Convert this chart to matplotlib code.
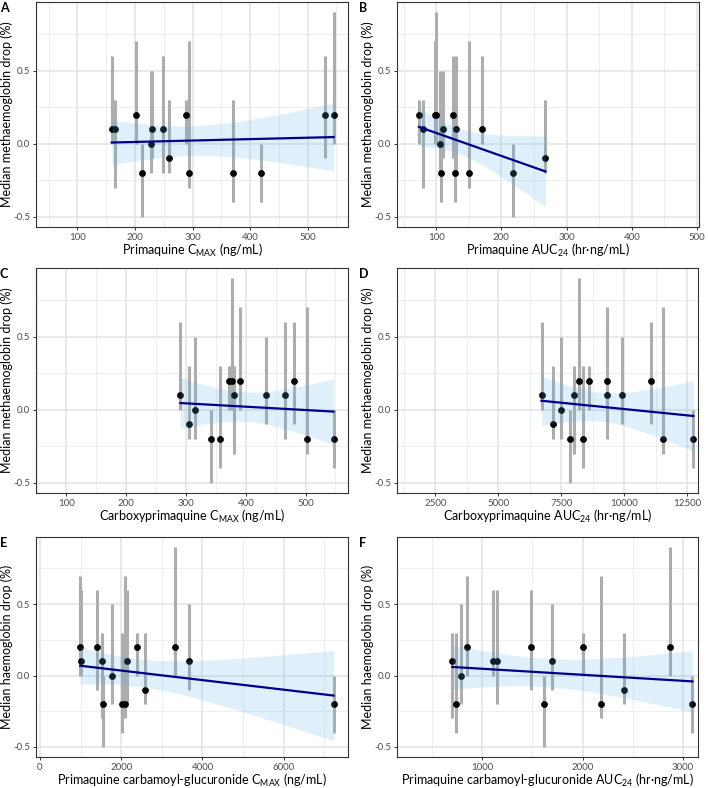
import numpy as np
import matplotlib
matplotlib.use("Agg")
import matplotlib.pyplot as plt

plt.rcParams['font.family'] = ['Lato', 'DejaVu Sans']
plt.rcParams['mathtext.fontset'] = 'custom'
plt.rcParams['mathtext.rm'] = 'Lato'
plt.rcParams['mathtext.it'] = 'Lato:italic'
plt.rcParams['mathtext.bf'] = 'Lato:bold'

# ---- subject-level outcome: median drop and its range (14 subjects) ----
median_drop = [0.1, -0.2, 0.0, 0.2, 0.1, 0.1, 0.2, -0.2, 0.1, 0.2, -0.2, -0.1, 0.2, -0.2]
drop_low = [-0.3, -0.4, -0.2, 0.0, 0.0, -0.2, -0.1, -0.5, -0.1, 0.0, -0.3, -0.2, 0.0, -0.4]
drop_high = [0.3, 0.3, 0.5, 0.7, 0.6, 0.6, 0.6, 0.0, 0.5, 0.3, 0.7, 0.3, 0.9, 0.0]

# ---- exposures per subject (same subject order) ----
pq_cmax = [165.3, 369.9, 227.1, 202.3, 159.6, 248.0, 530.1, 211.5, 228.8, 287.8, 293.6, 259.5, 545.1, 419.1]
pq_auc = [79.3, 107.6, 105.6, 99.0, 170.6, 131.0, 125.4, 217.2, 110.3, 73.6, 150.8, 267.5, 99.6, 129.5]
cpq_cmax = [381.0, 357.6, 315.0, 390.4, 290.5, 466.0, 480.5, 341.0, 433.0, 371.5, 502.2, 305.0, 377.6, 546.8]
cpq_auc = [8022, 8352, 7493, 9316, 6714, 9316, 11061, 7863, 9898, 8616, 11549, 7176, 8194, 12738]
pcg_cmax = [1530, 2024, 1778, 991, 1008, 2147, 1394, 1545, 3671, 2392, 2090, 2589, 3327, 7229]
pcg_auc = [702, 739, 789, 851, 1109, 1146, 1483, 1619, 1691, 2000, 2181, 2416, 2872, 3093]

panel_letters = ['A', 'B', 'C', 'D', 'E', 'F']
exposures = [pq_cmax, pq_auc, cpq_cmax, cpq_auc, pcg_cmax, pcg_auc]
x_titles = [
    r'Primaquine C$_{\mathrm{MAX}}$ (ng/mL)',
    r'Primaquine AUC$_{\mathrm{24}}$ (hr·ng/mL)',
    r'Carboxyprimaquine C$_{\mathrm{MAX}}$ (ng/mL)',
    r'Carboxyprimaquine AUC$_{\mathrm{24}}$ (hr·ng/mL)',
    r'Primaquine carbamoyl-glucuronide C$_{\mathrm{MAX}}$ (ng/mL)',
    r'Primaquine carbamoyl-glucuronide AUC$_{\mathrm{24}}$ (hr·ng/mL)',
]
y_titles = ['Median methaemoglobin drop (%)'] * 4 + ['Median haemoglobin drop (%)'] * 2
x_major = [
    [100, 200, 300, 400, 500],
    [100, 200, 300, 400, 500],
    [100, 200, 300, 400, 500],
    [2500, 5000, 7500, 10000, 12500],
    [0, 2000, 4000, 6000],
    [1000, 2000, 3000],
]
x_limits = [(28, 570), (40, 503), (49, 571), (981, 12923), (-98, 7582), (151, 3149)]
y_major = [-0.5, 0.0, 0.5]
y_labels = ['-0.5', '0.0', '0.5']

# axes rectangles in pixels: left, top, right, bottom
W, H = 708, 788
rects = [(36, 2, 348, 227), (397, 2, 699, 227),
         (36, 268, 348, 493), (397, 268, 698, 493),
         (36, 537, 348, 757), (397, 537, 698, 757)]

T_QUANT = {10: 2.228, 11: 2.201, 12: 2.179, 13: 2.160, 14: 2.145, 15: 2.131}

fig = plt.figure(figsize=(W / 100, H / 100), dpi=100)

for i in range(6):
    l, t, r, b = rects[i]
    ax = fig.add_axes([l / W, 1 - b / H, (r - l) / W, (b - t) / H])
    x = np.asarray(exposures[i], float)
    y = np.asarray(median_drop, float)
    lo = np.asarray(drop_low, float)
    hi = np.asarray(drop_high, float)

    # grid (major + minor)
    xmaj = np.asarray(x_major[i], float)
    step = xmaj[1] - xmaj[0]
    xmin_grid = np.arange(xmaj[0] - step / 2, x_limits[i][1] + step, step)
    for v in xmin_grid:
        if x_limits[i][0] < v < x_limits[i][1]:
            ax.axvline(v, color='#EBEBEB', lw=0.6, zorder=0)
    for v in [-0.25, 0.25, 0.75]:
        ax.axhline(v, color='#EBEBEB', lw=0.6, zorder=0)
    for v in xmaj:
        ax.axvline(v, color='#E3E3E3', lw=1.1, zorder=0)
    for v in y_major:
        ax.axhline(v, color='#E3E3E3', lw=1.1, zorder=0)

    # error bars and points
    ax.vlines(x, lo, hi, color='#ADADAD', lw=2.2, zorder=2)
    ax.scatter(x, y, s=24, color='black', zorder=3, linewidths=0)

    # linear fit with 95% CI
    n = len(x)
    xb = x.mean()
    sxx = ((x - xb) ** 2).sum()
    slope = ((x - xb) * (y - y.mean())).sum() / sxx
    icpt = y.mean() - slope * xb
    resid = y - (icpt + slope * x)
    s = np.sqrt((resid ** 2).sum() / (n - 2))
    xs = np.linspace(x.min(), x.max(), 100)
    fit = icpt + slope * xs
    se = s * np.sqrt(1 / n + (xs - xb) ** 2 / sxx)
    tq = T_QUANT[n - 2]
    ax.fill_between(xs, fit - tq * se, fit + tq * se, color='#5BB2E6', alpha=0.19,
                    lw=0, zorder=4)
    ax.plot(xs, fit, color='#00008B', lw=1.6, zorder=5)

    ax.set_xlim(*x_limits[i])
    ax.set_ylim(-0.57, 0.97)
    ax.set_xticks(xmaj)
    ax.set_xticklabels([f'{int(v)}' for v in xmaj])
    ax.set_yticks(y_major)
    ax.set_yticklabels(y_labels)
    ax.tick_params(axis='both', length=2.5, width=0.7, color='#333333',
                   labelsize=7, labelcolor='#4D4D4D', pad=1.5)
    for sp in ax.spines.values():
        sp.set_color('#333333')
        sp.set_linewidth(0.8)
    ax.set_xlabel(x_titles[i], fontsize=9, labelpad=0)
    ax.set_ylabel(y_titles[i], fontsize=9, labelpad=0.5)

    fig.text((0 if l < 100 else 359) / W, 1 - t / H, panel_letters[i],
             fontsize=9, fontweight='bold', va='top', ha='left')

fig.savefig('out.png', dpi=100)
